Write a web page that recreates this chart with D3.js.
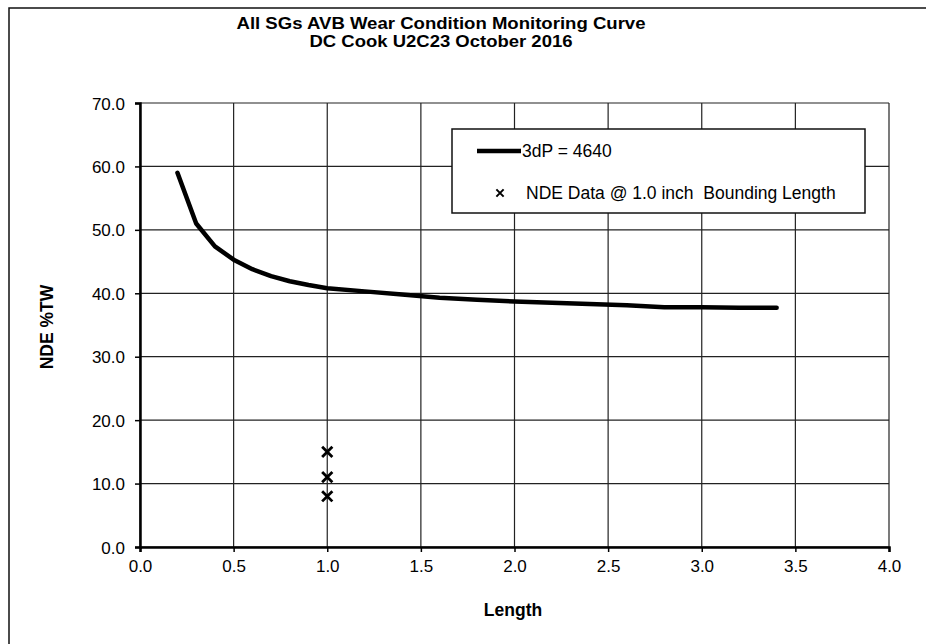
<!DOCTYPE html>
<html lang="en">
    <head>
        <meta charset="utf-8">
        <title>AVB Wear Condition Monitoring Curve</title>
        <script type="text/javascript" src="https://cdn.jsdelivr.net/npm/d3@7"></script>
        <style type="text/css">
            body { margin: 0; background: white; }
            text { font-family: "Liberation Sans", Arial, sans-serif; }
        </style>
    </head>
    <body>
        <script type="text/javascript">

            // curve 3dP = 4640
            var curveLength = [0.2, 0.3, 0.4, 0.5, 0.6, 0.7, 0.8, 0.9, 1.0, 1.2, 1.4, 1.6, 1.8, 2.0, 2.2, 2.4, 2.6, 2.8, 3.0, 3.2, 3.4];
            var curveTW = [59.0, 51.0, 47.4, 45.3, 43.8, 42.7, 41.9, 41.3, 40.8, 40.3, 39.8, 39.3, 39.0, 38.7, 38.5, 38.3, 38.1, 37.8, 37.8, 37.7, 37.7];

            // NDE data @ 1.0 inch
            var ndeLength = [1.0, 1.0, 1.0];
            var ndeTW = [15.0, 11.0, 8.0];

            var xTicks = [0, 0.5, 1, 1.5, 2, 2.5, 3, 3.5, 4];
            var yTicks = [0, 10, 20, 30, 40, 50, 60, 70];

            var titleLines = ["All SGs AVB Wear Condition Monitoring Curve", "DC Cook U2C23 October 2016"];
            var legendNames = ["3dP = 4640", "NDE Data @ 1.0 inch  Bounding Length"];

            //Width and height
            var w = 926;
            var h = 644;
            var pLeft = 140, pRight = 889, pTop = 103, pBottom = 547;

            var xScale = d3.scaleLinear().domain([0, 4]).range([pLeft, pRight]);
            var yScale = d3.scaleLinear().domain([0, 70]).range([pBottom, pTop]);

            var svg = d3.select("body")
                  .append("svg")
                  .attr("width", w)
                  .attr("height", h);

            svg.append("rect")
              .attr("width", w).attr("height", h)
              .attr("fill", "white");

            // outer frame
            svg.append("rect")
              .attr("x", 9).attr("y", 8)
              .attr("width", w).attr("height", h)
              .attr("fill", "none")
              .attr("stroke", "#111")
              .attr("stroke-width", 1.5);

            // titles
            var titleW = [409, 263];
            svg.selectAll("text.title")
              .data(titleLines)
              .enter()
              .append("text")
              .attr("class", "title")
              .attr("x", 441)
              .attr("y", function(d, i) { return 29 + i * 18; })
              .attr("text-anchor", "middle")
              .attr("font-size", "17px")
              .attr("font-weight", "bold")
              .attr("textLength", function(d, i) { return titleW[i]; })
              .attr("lengthAdjust", "spacingAndGlyphs")
              .text(function(d) { return d; });

            // grid
            svg.selectAll("line.vgrid")
              .data(xTicks)
              .enter()
              .append("line")
              .attr("class", "vgrid")
              .attr("x1", function(d) { return xScale(d); })
              .attr("x2", function(d) { return xScale(d); })
              .attr("y1", pTop).attr("y2", pBottom)
              .attr("stroke", "#222")
              .attr("stroke-width", 1.2);

            svg.selectAll("line.hgrid")
              .data(yTicks)
              .enter()
              .append("line")
              .attr("class", "hgrid")
              .attr("x1", pLeft).attr("x2", pRight)
              .attr("y1", function(d) { return yScale(d); })
              .attr("y2", function(d) { return yScale(d); })
              .attr("stroke", "#222")
              .attr("stroke-width", 1.2);

            // axes
            var xAxis = svg.append("g")
              .attr("transform", "translate(0," + pBottom + ")")
              .call(d3.axisBottom(xScale).tickValues(xTicks).tickSize(5).tickPadding(8)
                .tickFormat(d3.format(".1f")));
            var yAxis = svg.append("g")
              .attr("transform", "translate(" + pLeft + ",0)")
              .call(d3.axisLeft(yScale).tickValues(yTicks).tickSize(5).tickPadding(10)
                .tickFormat(d3.format(".1f")));

            [xAxis, yAxis].forEach(function(a) {
              a.select(".domain").attr("stroke", "#000").attr("stroke-width", 2.5);
              a.selectAll(".tick line").attr("stroke", "#000").attr("stroke-width", 1.5);
              a.selectAll(".tick text")
                .attr("font-family", "'Liberation Sans', Arial, sans-serif")
                .attr("font-size", "17px")
                .attr("fill", "#000");
            });
            yAxis.selectAll(".tick text").attr("dy", "0.36em");

            // axis titles
            svg.append("text")
              .attr("x", 513).attr("y", 616)
              .attr("text-anchor", "middle")
              .attr("font-size", "17.5px")
              .attr("font-weight", "bold")
              .text("Length");

            svg.append("text")
              .attr("transform", "translate(53,327) rotate(-90)")
              .attr("text-anchor", "middle")
              .attr("font-size", "17.5px")
              .attr("font-weight", "bold")
              .text("NDE %TW");

            // curve
            var line = d3.line()
              .x(function(d, i) { return xScale(curveLength[i]); })
              .y(function(d) { return yScale(d); });

            svg.append("path")
              .datum(curveTW)
              .attr("d", line)
              .attr("fill", "none")
              .attr("stroke", "#000")
              .attr("stroke-width", 4.5)
              .attr("stroke-linejoin", "round")
              .attr("stroke-linecap", "round");

            // NDE crosses
            var cross = d3.symbol().type(d3.symbolX).size(70);
            svg.selectAll("path.nde")
              .data(ndeTW)
              .enter()
              .append("path")
              .attr("class", "nde")
              .attr("d", cross)
              .attr("transform", function(d, i) {
                return "translate(" + xScale(ndeLength[i]) + "," + yScale(d) + ")";
              })
              .attr("stroke", "#000")
              .attr("stroke-width", 2.8)
              .attr("fill", "none");

            // legend
            var legend = svg.append("g");
            legend.append("rect")
              .attr("x", 452).attr("y", 129)
              .attr("width", 413).attr("height", 84)
              .attr("fill", "white")
              .attr("stroke", "#111")
              .attr("stroke-width", 1.5);

            legend.append("line")
              .attr("x1", 477).attr("x2", 521)
              .attr("y1", 151).attr("y2", 151)
              .attr("stroke", "#000")
              .attr("stroke-width", 4.5);

            legend.append("path")
              .attr("d", d3.symbol().type(d3.symbolX).size(36))
              .attr("transform", "translate(500,193)")
              .attr("stroke", "#000")
              .attr("stroke-width", 2)
              .attr("fill", "none");

            legend.selectAll("text")
              .data(legendNames)
              .enter()
              .append("text")
              .attr("x", function(d, i) { return i == 0 ? 522 : 526; })
              .attr("y", function(d, i) { return i == 0 ? 157 : 199; })
              .attr("font-size", "17.5px")
              .style("white-space", "pre")
              .text(function(d) { return d; });

        </script>
    </body>
</html>
